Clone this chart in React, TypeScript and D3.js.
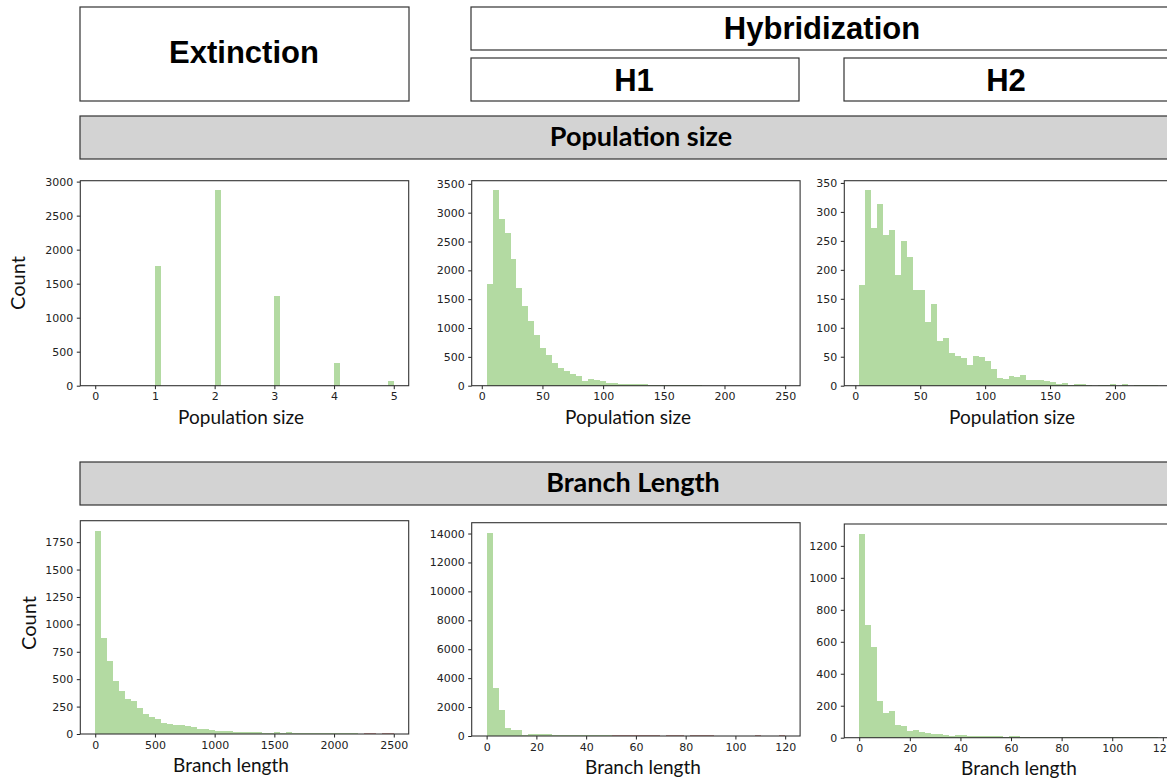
import * as d3 from "d3";
import { useEffect, useRef } from "react";

// histogram counts, 50 bins each
const popExtRange = [0, 5];
const popExtCounts = [
    0, 0, 0, 0, 0, 0, 0, 0, 0, 0,
    1760, 0, 0, 0, 0, 0, 0, 0, 0, 0,
    2870, 0, 0, 0, 0, 0, 0, 0, 0, 0,
    1320, 0, 0, 0, 0, 0, 0, 0, 0, 0,
    340, 0, 0, 0, 0, 0, 0, 0, 0, 75,
];
const popH1Range = [4, 250];
const popH1Counts = [
    1770, 3385, 2883, 2641, 2191, 1690, 1378, 1119, 876, 652,
    525, 390, 300, 250, 202, 160, 90, 110, 92, 90,
    55, 52, 37, 37, 37, 36, 35, 18, 18, 18,
    18, 4, 17, 4, 17, 17, 2, 2, 2, 2,
    2, 2, 2, 2, 2, 2, 2, 2, 2, 2,
];
const popH2Range = [3, 233];
const popH2Counts = [
    174, 337, 272, 314, 260, 268, 191, 250, 222, 165,
    165, 110, 141, 77, 83, 57, 52, 48, 35, 52,
    50, 43, 28, 14, 12, 17, 15, 19, 10, 10,
    10, 8, 7, 3, 5, 2, 3, 3, 2, 0,
    2, 2, 3, 0, 3, 0, 2, 2, 2, 2,
];
const brExtRange = [0, 2500];
const brExtCounts = [
    1853, 875, 663, 481, 391, 318, 300, 236, 182, 154,
    136, 100, 91, 82, 82, 73, 64, 45, 45, 36,
    27, 27, 27, 18, 18, 18, 18, 18, 9, 9,
    18, 9, 18, 9, 9, 9, 9, 9, 9, 9,
    9, 9, 9, 9, 0, 0, 0, 0, 0, 0,
];
const brExtRed = [
    0, 0, 0, 0, 0, 0, 0, 0, 0, 0,
    0, 0, 0, 0, 0, 0, 0, 0, 0, 0,
    0, 0, 0, 0, 0, 0, 0, 0, 0, 0,
    0, 0, 0, 0, 0, 0, 0, 0, 0, 0,
    0, 0, 0, 0, 0, 9, 9, 0, 9, 9,
];
const brH1Range = [0, 120];
const brH1Counts = [
    14046, 3350, 1830, 580, 400, 400, 100, 170, 110, 110,
    110, 40, 40, 40, 40, 40, 40, 40, 40, 40,
    40, 0, 0, 0, 0, 0, 0, 0, 0, 0,
    0, 0, 0, 0, 0, 0, 0, 0, 0, 0,
    0, 0, 0, 0, 0, 0, 0, 0, 0, 0,
];
const brH1Red = [
    0, 0, 0, 0, 0, 0, 0, 0, 0, 0,
    0, 0, 0, 0, 0, 0, 0, 0, 0, 0,
    0, 60, 60, 60, 60, 60, 60, 60, 60, 0,
    60, 60, 60, 0, 60, 60, 60, 60, 0, 0,
    0, 0, 0, 0, 0, 60, 0, 0, 0, 60,
];
const brH2Range = [0, 118];
const brH2Counts = [
    1273, 704, 567, 229, 154, 167, 79, 73, 42, 48,
    35, 29, 23, 23, 17, 10, 17, 17, 10, 10,
    10, 10, 10, 10, 5, 10, 10, 2, 2, 2,
    2, 2, 2, 2, 2, 2, 2, 2, 2, 2,
    2, 2, 2, 2, 2, 2, 2, 2, 2, 2,
];

const popExtXTicks = [0, 1, 2, 3, 4, 5];
const popExtYTicks = [0, 500, 1000, 1500, 2000, 2500, 3000];
const popH1XTicks = [0, 50, 100, 150, 200, 250];
const popH1YTicks = [0, 500, 1000, 1500, 2000, 2500, 3000, 3500];
const popH2XTicks = [0, 50, 100, 150, 200];
const popH2YTicks = [0, 50, 100, 150, 200, 250, 300, 350];
const brExtXTicks = [0, 500, 1000, 1500, 2000, 2500];
const brExtYTicks = [0, 250, 500, 750, 1000, 1250, 1500, 1750];
const brH1XTicks = [0, 20, 40, 60, 80, 100, 120];
const brH1YTicks = [0, 2000, 4000, 6000, 8000, 10000, 12000, 14000];
const brH2XTicks = [0, 20, 40, 60, 80, 100, 120];
const brH2YTicks = [0, 200, 400, 600, 800, 1000, 1200];

const GREEN = "#b3daa2";
const RED = "#c99591";
const PANEL_W = 328.4;

type Panel = {
    left: number, top: number, bottom: number,
    range: number[], counts: number[], red?: number[],
    xTicks: number[], yTicks: number[],
    label: string, labelX: number, labelY: number,
}

const panels: Panel[] = [
    { left: 80.3, top: 180.7, bottom: 385.7, range: popExtRange, counts: popExtCounts, xTicks: popExtXTicks, yTicks: popExtYTicks, label: "Population size", labelX: 241, labelY: 424 },
    { left: 471.7, top: 180.7, bottom: 385.7, range: popH1Range, counts: popH1Counts, xTicks: popH1XTicks, yTicks: popH1YTicks, label: "Population size", labelX: 628, labelY: 424 },
    { left: 844.3, top: 180.7, bottom: 385.7, range: popH2Range, counts: popH2Counts, xTicks: popH2XTicks, yTicks: popH2YTicks, label: "Population size", labelX: 1012, labelY: 424 },
    { left: 80.3, top: 520.7, bottom: 734, range: brExtRange, counts: brExtCounts, red: brExtRed, xTicks: brExtXTicks, yTicks: brExtYTicks, label: "Branch length", labelX: 231, labelY: 772 },
    { left: 471.7, top: 522.7, bottom: 736, range: brH1Range, counts: brH1Counts, red: brH1Red, xTicks: brH1XTicks, yTicks: brH1YTicks, label: "Branch length", labelX: 643, labelY: 774 },
    { left: 844.3, top: 524, bottom: 737.7, range: brH2Range, counts: brH2Counts, xTicks: brH2XTicks, yTicks: brH2YTicks, label: "Branch length", labelX: 1019, labelY: 775 },
];

type Sel = d3.Selection<SVGSVGElement, unknown, null, undefined>;

const drawBox = (svg: Sel, x: number, y: number, w: number, h: number, fill: string) =>
    svg.append("rect")
        .attr("x", x).attr("y", y)
        .attr("width", w).attr("height", h)
        .attr("fill", fill)
        .attr("stroke", "#333")
        .attr("stroke-width", 1.2);

const drawTitle = (svg: Sel, x: number, y: number, text: string, font: string, size: number) =>
    svg.append("text")
        .attr("x", x).attr("y", y)
        .attr("text-anchor", "middle")
        .style("font-family", font)
        .style("font-weight", "bold")
        .style("font-size", size + "px")
        .attr("fill", "#000")
        .text(text);

const drawPanel = (svg: Sel, p: Panel) => {
    const [lo, hi] = p.range;
    const margin = (hi - lo) * 0.05;
    const x = d3.scaleLinear().domain([lo - margin, hi + margin]).range([p.left, p.left + PANEL_W]);
    const y = d3.scaleLinear().domain([0, (d3.max(p.counts) || 1) * 1.05]).range([p.bottom, p.top]);
    const step = (hi - lo) / p.counts.length;
    const bw = x(lo + step) - x(lo);

    const g = svg.append("g");

    const bars = (data: number[], color: string) => g.append("g")
        .attr("fill", color)
        .attr("shape-rendering", "crispEdges")
        .selectAll("rect")
        .data(data)
        .join("rect")
        .attr("x", (_, i) => x(lo + i * step))
        .attr("width", bw)
        .attr("y", d => y(d))
        .attr("height", d => y(0) - y(d));

    bars(p.counts, GREEN);
    if (p.red) bars(p.red, RED);

    const xAxis = g.append("g")
        .attr("transform", `translate(0,${p.bottom})`)
        .call(d3.axisBottom(x).tickValues(p.xTicks).tickSize(3.5).tickPadding(3.5).tickFormat(d3.format("d")));
    const yAxis = g.append("g")
        .attr("transform", `translate(${p.left},0)`)
        .call(d3.axisLeft(y).tickValues(p.yTicks).tickSize(3.5).tickPadding(3.5).tickFormat(d3.format("d")));

    [xAxis, yAxis].forEach(a => {
        a.select(".domain").remove();
        a.selectAll("line").attr("stroke", "#222");
        a.selectAll("text")
            .attr("fill", "#222")
            .style("font-family", "DejaVu Sans")
            .style("font-size", "11px");
    });

    g.append("rect")
        .attr("x", p.left).attr("y", p.top)
        .attr("width", PANEL_W).attr("height", p.bottom - p.top)
        .attr("fill", "none")
        .attr("stroke", "#333")
        .attr("stroke-width", 1.1);

    g.append("text")
        .attr("x", p.labelX).attr("y", p.labelY)
        .attr("text-anchor", "middle")
        .style("font-family", "Lato")
        .style("font-size", "19px")
        .attr("fill", "#111")
        .text(p.label);
};

const App = () => {
    const ref = useRef<SVGSVGElement>(null);

    useEffect(() => {
        const svg = d3.select(ref.current!) as Sel;
        svg.selectAll("*").remove();

        // header boxes
        drawBox(svg, 80, 7, 329, 94, "#fff");
        drawTitle(svg, 244, 63, "Extinction", "Liberation Sans", 31);
        drawBox(svg, 471, 7, 720, 43, "#fff");
        drawTitle(svg, 822, 39, "Hybridization", "Liberation Sans", 31);
        drawBox(svg, 471, 58, 328, 43, "#fff");
        drawTitle(svg, 634, 91, "H1", "Liberation Sans", 31);
        drawBox(svg, 844, 58, 347, 43, "#fff");
        drawTitle(svg, 1006, 91, "H2", "Liberation Sans", 31);

        // row bands
        drawBox(svg, 80, 116, 1110, 43, "#d3d3d3");
        drawTitle(svg, 641, 146, "Population size", "Lato", 27);
        drawBox(svg, 80, 462, 1110, 43, "#d3d3d3");
        drawTitle(svg, 633, 492, "Branch Length", "Lato", 27);

        panels.forEach(p => drawPanel(svg, p));

        // y labels
        svg.append("text")
            .attr("transform", "translate(25,283) rotate(-90)")
            .attr("text-anchor", "middle")
            .style("font-family", "Lato").style("font-size", "20px")
            .attr("fill", "#111")
            .text("Count");
        svg.append("text")
            .attr("transform", "translate(36,623) rotate(-90)")
            .attr("text-anchor", "middle")
            .style("font-family", "Lato").style("font-size", "20px")
            .attr("fill", "#111")
            .text("Count");
    }, []);

    return (
        <svg
            ref={ref}
            width={1167}
            height={778}
            style={{ position: "absolute", left: 0, top: 0, background: "#fff", display: "block" }}
        />
    );
};

export default App;
